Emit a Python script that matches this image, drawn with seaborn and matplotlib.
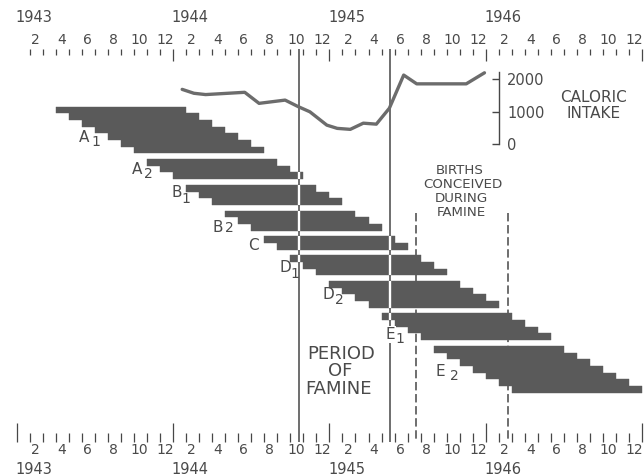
import numpy as np
import pandas as pd
import matplotlib
matplotlib.use("Agg")
import matplotlib.pyplot as plt
import seaborn as sns
from matplotlib import transforms
from matplotlib.ticker import FixedLocator

# ---------------- data ----------------
groups = ["A1", "A2", "B1", "B2", "C", "D1", "D2", "E1", "E2"]
group_first_conception = [3, 10, 13, 16, 19, 21, 24, 28, 32]   # months since Jan 1943
group_n_months = [7, 3, 3, 3, 2, 3, 4, 4, 7]
span_months = 10

cal_month = [12.7, 13.6, 14.5, 17.5, 18.6, 20.6, 21.6, 22.5, 23.8, 24.6,
             25.6, 26.6, 27.6, 28.6, 29.7, 30.7, 34.5, 35.9]
cal_kcal = [1690, 1570, 1530, 1600, 1260, 1360, 1160, 1000, 590, 490,
            460, 650, 620, 1110, 2130, 1860, 1860, 2200]
cal_ticks = [0, 1000, 2000]

famine_period = [21.7, 28.65]
conceived_window = [30.65, 37.7]

year_labels = ["1943", "1944", "1945", "1946"]
month_labels = ["2", "4", "6", "8", "10", "12"]

# ---------------- layout constants ----------------
W, H = 644, 476
X_PX0, PX_PER_MONTH = 16.7, 13.03
Y_PX0, PX_PER_ROW = 106.7, 6.68
GAP = 0.85
AX_TOP_PX, AX_BOT_PX = 49, 442
CAL_PX0, PX_PER_KCAL = 144.3, 0.0325
CAL_AXIS_X = 37.0

BAR = "#5a5a5a"
LINE = "#474747"
TXT = "#4a4a4a"
CALC = "#6c6c6c"

sns.set_theme(style="white")
plt.rcParams["font.family"] = ["DejaVu Sans"]

rows = []
pos = 0.0
for g, s, n in zip(groups, group_first_conception, group_n_months):
    for k in range(n):
        rows.append(dict(group=g, start=s + k, end=s + k + span_months, slot=pos))
        pos += 1
    pos += GAP
df = pd.DataFrame(rows)

fig = plt.figure(figsize=(W / 100, H / 100), dpi=100)
fig.patch.set_facecolor("white")
xlim = ((0 - X_PX0) / PX_PER_MONTH, (W - X_PX0) / PX_PER_MONTH)
slot = lambda py: (py - Y_PX0) / PX_PER_ROW

ax = fig.add_axes([0, 1 - AX_BOT_PX / H, 1, (AX_BOT_PX - AX_TOP_PX) / H])
ax.set_facecolor("none")
ax.set_xlim(xlim)
ax.set_ylim(slot(AX_BOT_PX), slot(AX_TOP_PX))
for s in ax.spines.values():
    s.set_visible(False)
ax.set_yticks([])

# bars
ax.barh(df["slot"] + 0.5, df["end"] - df["start"], left=df["start"], height=1.0,
        color=BAR, edgecolor=BAR, linewidth=0.3, zorder=3)

# famine period lines: dark on background, white through bars
for x in famine_period:
    ax.axvline(x, color=LINE, lw=1.1, zorder=2)
    hit = df[(df["start"] < x) & (df["end"] > x)]
    ax.vlines([x] * len(hit), hit["slot"], hit["slot"] + 1, color="white", lw=1.7, zorder=4)

# births conceived during famine
for x in conceived_window:
    ax.vlines(x, slot(213), slot(AX_BOT_PX), color=LINE, lw=1.1,
              linestyles=(0, (5.5, 2.4)), zorder=2)

# bottom ticks
ax.xaxis.set_major_locator(FixedLocator([0, 12, 24, 36, 48]))
ax.xaxis.set_minor_locator(FixedLocator([m for m in range(1, 48) if m % 12]))
ax.tick_params(axis="x", which="both", bottom=True, top=False, direction="in",
               labelbottom=False, color=LINE, width=0.9)
ax.tick_params(axis="x", which="major", length=13.7)
ax.tick_params(axis="x", which="minor", length=6.5)

# top ticks
sec = ax.secondary_xaxis("top")
for s in sec.spines.values():
    s.set_visible(False)
sec.xaxis.set_major_locator(FixedLocator([12, 24, 36, 48]))
sec.xaxis.set_minor_locator(FixedLocator([m for m in range(1, 48) if m % 12]))
sec.tick_params(axis="x", which="both", direction="in", labeltop=False,
                color=LINE, width=0.9)
sec.tick_params(axis="x", which="major", length=8.6)
sec.tick_params(axis="x", which="minor", length=4.3)

# caloric intake axes
axc = fig.add_axes([0, 0, 1, 1])
axc.set_facecolor("none")
axc.set_xlim(xlim)
axc.set_ylim((CAL_PX0 - H) / PX_PER_KCAL, CAL_PX0 / PX_PER_KCAL)
sns.lineplot(x=cal_month, y=cal_kcal, ax=axc, color=CALC, lw=2.4, sort=False)
for k in ["top", "left", "bottom"]:
    axc.spines[k].set_visible(False)
axc.spines["right"].set_position(("data", CAL_AXIS_X))
axc.spines["right"].set_bounds(0, 2234)
axc.spines["right"].set_color(LINE)
axc.spines["right"].set_linewidth(1.0)
axc.yaxis.tick_right()
axc.set_yticks(cal_ticks)
axc.set_yticklabels([str(v) for v in cal_ticks])
axc.tick_params(axis="y", direction="in", length=5.4, width=1.0, pad=6,
                labelsize=10.5, labelcolor=TXT, color=LINE)
axc.set_xticks([])
axc.set_xlabel("")
axc.set_ylabel("")

# text overlay in pixel coordinates
axt = fig.add_axes([0, 0, 1, 1])
axt.set_facecolor("none")
axt.set_xlim(0, W)
axt.set_ylim(H, 0)
axt.axis("off")
mix = transforms.blended_transform_factory(ax.transData, axt.transData)

for i, yl in enumerate(year_labels):
    for ypx in (18, 470):
        axt.text(12 * i - 0.1, ypx, yl, transform=mix, ha="left", va="center",
                 fontsize=10.5, color=TXT)
    for j, ml in enumerate(month_labels):
        m = 2 * (j + 1)
        for ypx in (40, 450):
            axt.text(12 * i + m - 0.58, ypx, ml, transform=mix, ha="center",
                     va="center", fontsize=10, color=TXT)

axt.text(593.5, 98, "CALORIC", ha="center", va="center", fontsize=11, color=TXT)
axt.text(593.5, 113.5, "INTAKE", ha="center", va="center", fontsize=11, color=TXT)

for t, (x, y) in zip(["BIRTHS", "CONCEIVED", "DURING", "FAMINE"],
                     [(459.5, 170.5), (462.5, 184.5), (461.5, 198), (461, 212)]):
    axt.text(x, y, t, ha="center", va="center", fontsize=9.6, color=TXT)

for t, (x, y) in zip(["PERIOD", "OF", "FAMINE"], [(341, 354), (340, 371.5), (339, 389)]):
    axt.text(x, y, t, ha="center", va="center", fontsize=13, color=TXT)

label_pos = {
    "A1": ((84.5, 137.5), (95.5, 142.5)),
    "A2": ((137.5, 169.5), (148, 174)),
    "B1": ((177, 192.5), (186, 199)),
    "B2": ((218, 227.5), (229, 228.5)),
    "C": ((253, 245), None),
    "D1": ((285, 267.5), (294.5, 274)),
    "D2": ((328, 294.5), (339, 300)),
    "E1": ((390, 334.5), (399.5, 339)),
    "E2": ((440, 371), (454.5, 376)),
}
for g in groups:
    (lx, ly), sub = label_pos[g]
    bbox = dict(facecolor="white", edgecolor="none", pad=0.5) if g == "E1" else None
    axt.text(lx, ly, g[0], ha="center", va="center", fontsize=11, color=TXT, bbox=bbox)
    if sub is not None:
        axt.text(sub[0], sub[1], g[1], ha="center", va="center", fontsize=10, color=TXT)

fig.savefig("out.png", dpi=100, facecolor="white")
